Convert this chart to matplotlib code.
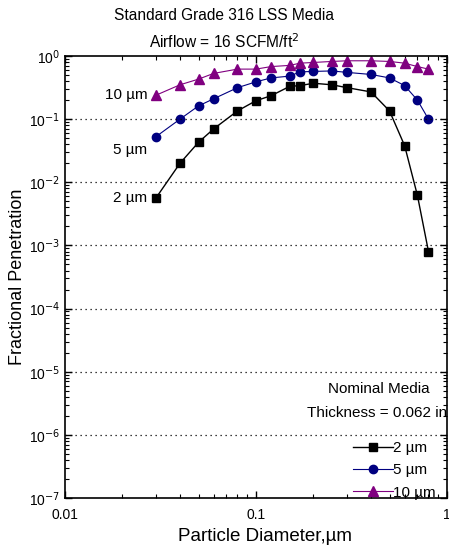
import matplotlib.pyplot as plt
from matplotlib.ticker import LogLocator, FixedLocator, FixedFormatter, NullFormatter

plt.rcParams['font.family'] = ['Liberation Sans', 'DejaVu Sans']

diameter = [0.03, 0.04, 0.05, 0.06, 0.08, 0.1, 0.12, 0.15, 0.17, 0.2,
            0.25, 0.3, 0.4, 0.5, 0.6, 0.7, 0.8]
pen_2um = [0.0057, 0.020, 0.043, 0.070, 0.135, 0.196, 0.235, 0.33, 0.34, 0.37,
           0.35, 0.315, 0.27, 0.135, 0.038, 0.0062, 0.0008]
pen_5um = [0.053, 0.10, 0.162, 0.21, 0.315, 0.39, 0.45, 0.48, 0.56, 0.57,
           0.58, 0.55, 0.51, 0.45, 0.34, 0.20, 0.10]
pen_10um = [0.24, 0.35, 0.43, 0.53, 0.62, 0.62, 0.68, 0.71, 0.77, 0.79,
            0.82, 0.84, 0.84, 0.82, 0.77, 0.68, 0.62]
series_names = ["2 \u00b5m", "5 \u00b5m", "10 \u00b5m"]
y_ticks = [1e-7, 1e-6, 1e-5, 1e-4, 1e-3, 1e-2, 1e-1, 1e0]
y_labels = ["10$^{-7}$", "10$^{-6}$", "10$^{-5}$", "10$^{-4}$",
            "10$^{-3}$", "10$^{-2}$", "10$^{-1}$", "10$^{0}$"]
x_ticks = [0.01, 0.1, 1]
x_labels = ["0.01", "0.1", "1"]

fig = plt.figure(figsize=(4.49, 5.49), dpi=100)
ax = fig.add_axes([65 / 449, 51 / 549, 382 / 449, 442 / 549])

ax.plot(diameter, pen_2um, color="black", marker="s", markersize=5.5,
        linewidth=1, label=series_names[0])
ax.plot(diameter, pen_5um, color="#000080", marker="o", markersize=6,
        linewidth=0.8, label=series_names[1])
ax.plot(diameter, pen_10um, color="#800080", marker="^", markersize=6.5,
        linewidth=0.8, label=series_names[2])

ax.set_xscale("log")
ax.set_yscale("log")
ax.set_xlim(0.01, 1)
ax.set_ylim(1e-7, 1)

ax.yaxis.set_major_locator(FixedLocator(y_ticks))
ax.yaxis.set_major_formatter(FixedFormatter(y_labels))
ax.yaxis.set_minor_locator(LogLocator(base=10, subs=range(2, 10), numticks=20))
ax.yaxis.set_minor_formatter(NullFormatter())
ax.xaxis.set_major_locator(FixedLocator(x_ticks))
ax.xaxis.set_major_formatter(FixedFormatter(x_labels))
ax.xaxis.set_minor_locator(LogLocator(base=10, subs=range(2, 10), numticks=20))
ax.xaxis.set_minor_formatter(NullFormatter())

ax.tick_params(which="both", direction="in", top=True, right=True, labelsize=10)
ax.tick_params(which="major", length=5, width=1)
ax.tick_params(which="minor", length=3, width=0.8)
ax.tick_params(axis="x", which="major", pad=7)
for s in ax.spines.values():
    s.set_linewidth(1.2)

for yv in y_ticks[1:-1]:
    ax.axhline(yv, color="black", linestyle=(0, (1, 3)), linewidth=0.9)

ax.text(0.027, 0.24, "10 \u00b5m", fontsize=11, ha="right", va="center")
ax.text(0.027, 0.033, "5 \u00b5m", fontsize=11, ha="right", va="center")
ax.text(0.027, 0.0057, "2 \u00b5m", fontsize=11, ha="right", va="center")
ax.text(0.955, 0.247, "Nominal Media", fontsize=11, ha="right", va="center",
        transform=ax.transAxes)
ax.text(1.0, 0.192, "Thickness = 0.062 in", fontsize=11, ha="right",
        va="center", transform=ax.transAxes)

ax.legend(loc="lower right", bbox_to_anchor=(1.005, -0.035), frameon=False,
          fontsize=11, handlelength=2.6, handletextpad=0.0, labelspacing=0.55)

fig.text(0.5, 1 - 16 / 549, "Standard Grade 316 LSS Media", ha="center",
         va="center", fontsize=11.2)
fig.text(0.5, 1 - 42 / 549, "Airflow = 16 SCFM/ft$^{2}$", ha="center",
         va="center", fontsize=11.2)
ax.set_xlabel("Particle Diameter,\u00b5m", fontsize=13.5, va="center")
ax.xaxis.set_label_coords(0.523, -0.088)
ax.set_ylabel("Fractional Penetration", fontsize=13, labelpad=2)

fig.savefig("out.png", dpi=100)
